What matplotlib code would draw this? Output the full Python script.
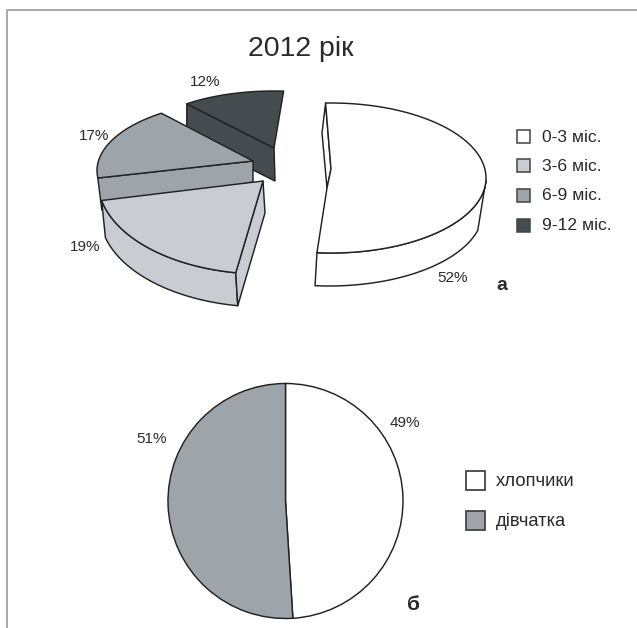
import numpy as np
import matplotlib
matplotlib.use("Agg")
import matplotlib.pyplot as plt
from matplotlib.patches import Polygon, Rectangle

plt.rcParams['font.family'] = ['Liberation Sans', 'DejaVu Sans']

title = "2012 рік"
age_labels = ["0-3 міс.", "3-6 міс.", "6-9 міс.", "9-12 міс."]
age_values = [52, 19, 17, 12]
age_colors = ["#ffffff", "#c9ccd3", "#9ea5aa", "#454c4f"]

sex_labels = ["хлопчики", "дівчатка"]
sex_values = [49, 51]
sex_colors = ["#ffffff", "#9ea5aa"]

W, H = 637, 628
EDGE = "#222222"
TEXT = "#2a2a2a"
DEPTH = 33

fig = plt.figure(figsize=(W / 100, H / 100), dpi=100)
ax = fig.add_axes([0, 0, 1, 1])
ax.set_xlim(0, W)
ax.set_ylim(H, 0)
ax.axis("off")


def arc(cx, cy, a, b, t0, t1):
    # clockwise from 12 o'clock, squashed circle
    t = np.radians(np.linspace(t0, t1, 80))
    return np.column_stack([cx + a * np.sin(t), cy - b * np.cos(t)])


def poly(points, color, z):
    ax.add_patch(Polygon(points, closed=True, facecolor=color, edgecolor=EDGE,
                         linewidth=1.05, joinstyle="round", zorder=z))


# frame
ax.plot([6.5, 6.5, W], [H, 9.5, 9.5], color="#a8a8a8", lw=1.4, solid_capstyle="butt", zorder=1)

# slice angles come from the values, each exploded slice has its own ellipse
sweeps = [v * 3.6 for v in age_values]

# dark slice 9-12
t0 = 320.8
t1 = t0 + sweeps[3]
top = arc(274, 148, 138, 57, t0, t1)
wall = np.array([top[0], (274, 148), (275, 181), (top[0][0], top[0][1] + 33)])
poly(wall, age_colors[3], 2)
poly(np.vstack([top, [(274, 148)]]), age_colors[3], 3)

# mid slice 6-9
t0 = 264
t1 = t0 + sweeps[2]
top = arc(247, 170.7, 150, 70, t0, t1)
apex = (253, 161)
wall = np.array([top[0], apex, (apex[0], apex[1] + 21), (top[0][0] + 4, top[0][1] + 32)])
poly(wall, age_colors[2], 4)
poly(np.vstack([top, [apex]]), age_colors[2], 5)

# light slice 3-6
t0 = 189.5
t1 = t0 + sweeps[1]
apex = (263, 181)
top = arc(apex[0], apex[1], 165, 93, t0, t1)
low = arc(apex[0] + 2, apex[1] + DEPTH, 165, 93, t0, t1)
low = low[:-3]
poly(np.vstack([top, low[::-1]]), age_colors[1], 6)
poly(np.array([top[0], apex, (apex[0] + 2, apex[1] + 32), low[0]]), age_colors[1], 6)
poly(np.vstack([top, [apex]]), age_colors[1], 7)

# white slice 0-3
t0 = -2
t1 = t0 + sweeps[0]
top = arc(331, 178, 155, 75, t0, t1)
low = arc(329, 178 + DEPTH, 154, 75, 105, t1)
poly(np.vstack([arc(331, 178, 155, 75, 92, t1), low[::-1]]), age_colors[0], 8)
# inner wall, seen through the gap
poly(np.array([top[0], (322, 133), (327, 188), (331, 169)]), age_colors[0], 9)
poly(np.vstack([top, [(327, 188), (331, 169)]]), age_colors[0], 9)

# labels of slices
for s, x, y in [("12%", 205, 82), ("17%", 94, 136), ("19%", 85, 247), ("52%", 453, 278),
                ("49%", 405, 423), ("51%", 152, 439)]:
    ax.text(x, y, s, fontsize=11, color=TEXT, ha="center", va="center", zorder=20)

ax.text(300.5, 49, title, fontsize=20.5, color=TEXT, ha="center", va="center", zorder=20)
ax.text(502, 285, "а", fontsize=14, fontweight="bold", color=TEXT, ha="center", va="center")
ax.text(413, 605, "б", fontsize=15, fontweight="bold", color=TEXT, ha="center", va="center", zorder=20)

# legend a
for lab, col, y in zip(age_labels, age_colors, [136.5, 165.5, 195, 225]):
    ax.add_patch(Rectangle((516.5, y - 6.5), 13, 13, facecolor=col, edgecolor="#444444", lw=1.1))
    ax.text(542, y + 1, lab, fontsize=12.6, color=TEXT, ha="left", va="center")

# legend b
for lab, col, y in zip(sex_labels, sex_colors, [480, 520]):
    ax.add_patch(Rectangle((465.5, y - 9.5), 19, 19, facecolor=col, edgecolor="#444444", lw=1.3))
    ax.text(496, y + 1, lab, fontsize=13.2, color=TEXT, ha="left", va="center")

# pie b, a real pie in its own axes
r = 117.5
cx, cy = 285.5, 501
ax2 = fig.add_axes([(cx - r - 2) / W, 1 - (cy + r + 2) / H, (2 * r + 4) / W, (2 * r + 4) / H])
ax2.pie(sex_values, colors=sex_colors, startangle=90, counterclock=False, radius=r,
        wedgeprops={"edgecolor": EDGE, "linewidth": 1.05})
ax2.set_xlim(-r - 2, r + 2)
ax2.set_ylim(-r - 2, r + 2)

fig.savefig("out.png", dpi=100)
